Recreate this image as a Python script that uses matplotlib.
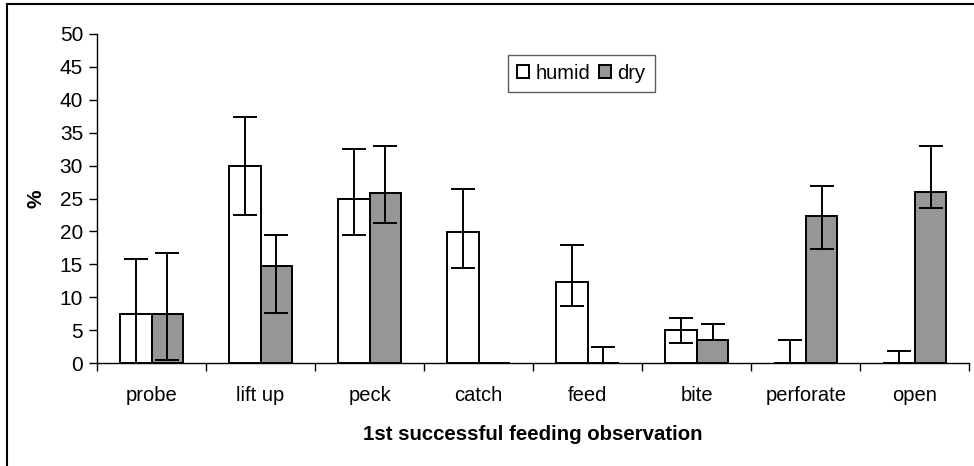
import matplotlib
matplotlib.use("Agg")
import matplotlib.pyplot as plt
import numpy as np
from matplotlib.patches import Rectangle

plt.rcParams['font.family'] = ['Liberation Sans', 'DejaVu Sans']

categories = ["probe", "lift up", "peck", "catch", "feed", "bite", "perforate", "open"]
humid = [7.5, 30.0, 24.9, 19.9, 12.4, 5.05, 0.0, 0.0]
humid_upper = [15.8, 37.3, 32.5, 26.4, 17.95, 6.8, 3.6, 1.9]
humid_lower = [0.0, 22.5, 19.4, 14.5, 8.7, 3.1, 0.0, 0.0]
dry = [7.5, 14.8, 25.9, 0.0, 0.0, 3.6, 22.35, 26.0]
dry_upper = [16.7, 19.4, 33.0, 0.0, 2.4, 6.0, 26.9, 33.0]
dry_lower = [0.45, 7.7, 21.3, 0.0, 0.0, 3.6, 17.4, 23.5]
yticks = [0, 5, 10, 15, 20, 25, 30, 35, 40, 45, 50]

fig = plt.figure(figsize=(9.74, 4.66), dpi=100)
ax = fig.add_axes([97/974, 1 - 363.3/466, (969.3 - 97)/974, (363.3 - 33.7)/466])

x = np.arange(len(categories))
w = 0.29
humid = np.array(humid); dry = np.array(dry)
h_err = [humid - np.array(humid_lower), np.array(humid_upper) - humid]
d_err = [dry - np.array(dry_lower), np.array(dry_upper) - dry]

ax.bar(x - w/2, humid, w, color='white', edgecolor='black', linewidth=1.4, label='humid', zorder=2)
ax.bar(x + w/2, dry, w, color='#969696', edgecolor='black', linewidth=1.4, label='dry', zorder=2)
ax.errorbar(x - w/2, humid, yerr=h_err, fmt='none', ecolor='black', elinewidth=1.4,
            capsize=8.5, capthick=1.4, zorder=3)
ax.errorbar(x + w/2, dry, yerr=d_err, fmt='none', ecolor='black', elinewidth=1.4,
            capsize=8.5, capthick=1.4, zorder=3)

ax.set_xlim(-0.5, len(categories) - 0.5)
ax.set_ylim(0, 50)
ax.set_yticks(yticks)
ax.set_yticklabels([str(v) for v in yticks], fontsize=15)
ax.set_xticks(x)
ax.set_xticklabels(categories, fontsize=14.5)
ax.set_xticks(np.arange(-0.5, len(categories)), minor=True)
ax.tick_params(axis='x', which='major', length=0, pad=16)
ax.tick_params(axis='x', which='minor', length=6, width=1, direction='out')
ax.tick_params(axis='y', length=6, width=1, direction='out', pad=4)

for s in ['top', 'right']:
    ax.spines[s].set_visible(False)
for s in ['left', 'bottom']:
    ax.spines[s].set_linewidth(1.0)

ax.set_ylabel('%', fontsize=15, fontweight='bold', labelpad=10)
ax.set_xlabel('1st successful feeding observation', fontsize=14.7, fontweight='bold', labelpad=15)

leg = ax.legend(loc='upper left', bbox_to_anchor=((508 - 97)/(969.3 - 97), 1 - (54.7 - 33.7)/(363.3 - 33.7)),
                ncol=2, fontsize=14.5, frameon=True, fancybox=False, handlelength=0.6, handleheight=0.6,
                handletextpad=0.33, columnspacing=0.4, borderpad=0.45, borderaxespad=0)
leg.get_frame().set_edgecolor('#333333')
leg.get_frame().set_linewidth(1.0)

fig.patches.append(Rectangle((7/974, -0.1), 1.2, (1 - 3.5/466) + 0.1, transform=fig.transFigure,
                             fill=False, edgecolor='black', linewidth=1.5))

fig.savefig('out.png', dpi=100)
